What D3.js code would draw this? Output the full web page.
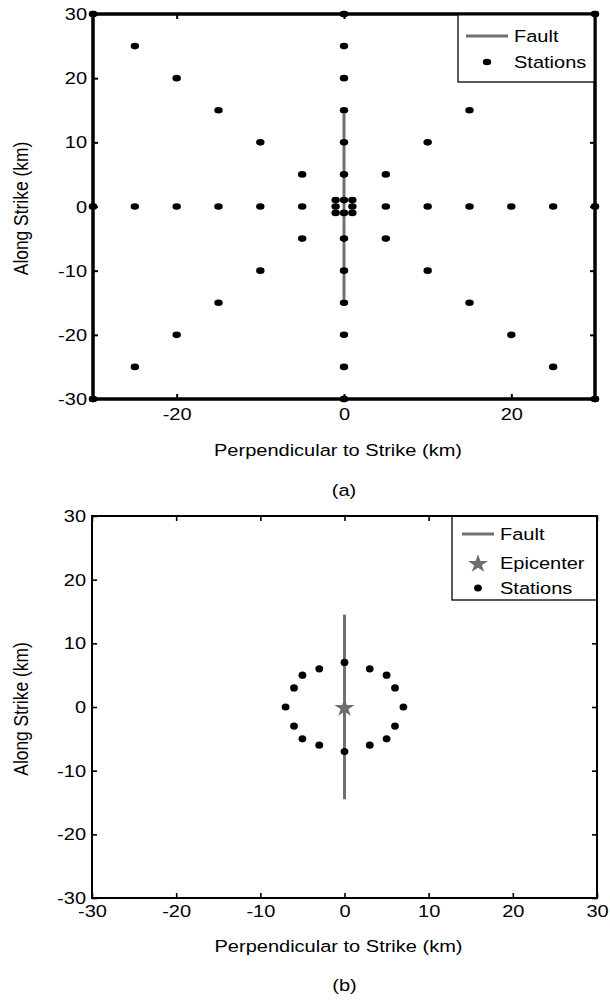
<!DOCTYPE html>
<html>
<head>
<meta charset="utf-8">
<script src="https://cdn.jsdelivr.net/npm/d3@7"></script>
<style>
  html, body { margin: 0; padding: 0; background: #fff; }
</style>
</head>
<body>
<script>
// ---- data ----------------------------------------------------------------
const yTickValues  = [-30, -20, -10, 0, 10, 20, 30];
const xTickValuesA = [-20, 0, 20];
const xTickValuesB = [-30, -20, -10, 0, 10, 20, 30];

// Fault trace (x, along-strike ends) shared by both layouts
const faultX = 0;
const faultEnds = [-14.5, 14.5];

// Epicenter for layout (b)
const epicenter = [0, 0];

// Layout (a): radial station grid plus a tight ring at the fault centre
const stationsA = [
  // along the x axis
  [-30, 0], [-25, 0], [-20, 0], [-15, 0], [-10, 0], [-5, 0],
  [5, 0], [10, 0], [15, 0], [20, 0], [25, 0], [30, 0],
  // along the y axis
  [0, -30], [0, -25], [0, -20], [0, -15], [0, -10], [0, -5],
  [0, 5], [0, 10], [0, 15], [0, 20], [0, 25], [0, 30],
  // diagonal y = x
  [-30, -30], [-25, -25], [-20, -20], [-15, -15], [-10, -10], [-5, -5],
  [5, 5], [10, 10], [15, 15], [20, 20], [25, 25], [30, 30],
  // diagonal y = -x
  [-30, 30], [-25, 25], [-20, 20], [-15, 15], [-10, 10], [-5, 5],
  [5, -5], [10, -10], [15, -15], [20, -20], [25, -25], [30, -30],
  // near-fault ring
  [-1, -1], [0, -1], [1, -1], [-1, 0], [1, 0], [-1, 1], [0, 1], [1, 1]
];

// Layout (b): ring of stations around the epicenter
const stationsB = [
  [0, 7], [3, 6], [5, 5], [6, 3], [7, 0], [6, -3], [5, -5], [3, -6],
  [0, -7], [-3, -6], [-5, -5], [-6, -3], [-7, 0], [-6, 3], [-5, 5], [-3, 6]
];

const legendA = ["Fault", "Stations"];
const legendB = ["Fault", "Epicenter", "Stations"];

// ---- styling ---------------------------------------------------------------
const FONT = '"Liberation Sans", Arial, Helvetica, sans-serif';
const FS = 17.4;      // font size
const SX = 1.15;      // horizontal text stretch
const FAULT_COLOR = "#707070";
const STAR_COLOR = "#6e6e6e";

const W = 610, H = 1001;
const svg = d3.select("body").append("svg")
  .attr("width", W).attr("height", H)
  .style("background", "#fff");

function hText(g, x, y, str, anchor) {
  return g.append("text")
    .attr("transform", `translate(${x},${y}) scale(${SX},1)`)
    .attr("text-anchor", anchor || "start")
    .attr("font-size", FS)
    .attr("font-family", FONT)
    .attr("fill", "#000")
    .text(str);
}

function drawAxes(g, x, y, xt, yt, frameW, tickW, xPad) {
  const [x0, x1] = x.range();
  const [yb, yt0] = y.range();
  const fmt = d => String(d);

  const styleAxis = sel => {
    sel.attr("font-size", FS).attr("font-family", FONT);
    sel.select(".domain").remove();
    sel.selectAll(".tick line").attr("stroke", "#000").attr("stroke-width", tickW);
    sel.selectAll(".tick text").attr("fill", "#000");
  };

  g.append("g").attr("transform", `translate(0,${yb})`)
    .call(d3.axisBottom(x).tickValues(xt).tickFormat(fmt)
      .tickSizeInner(-5).tickSizeOuter(0).tickPadding(xPad))
    .call(styleAxis)
    .selectAll(".tick text").attr("transform", `scale(${SX},1)`);

  g.append("g").attr("transform", `translate(0,${yt0})`)
    .call(d3.axisTop(x).tickValues(xt).tickFormat("")
      .tickSizeInner(-5).tickSizeOuter(0))
    .call(styleAxis);

  g.append("g").attr("transform", `translate(${x0},0)`)
    .call(d3.axisLeft(y).tickValues(yt).tickFormat(fmt)
      .tickSizeInner(-5).tickSizeOuter(0).tickPadding(6 / SX))
    .call(styleAxis)
    .selectAll(".tick text").attr("transform", `scale(${SX},1)`);

  g.append("g").attr("transform", `translate(${x1},0)`)
    .call(d3.axisRight(y).tickValues(yt).tickFormat("")
      .tickSizeInner(-5).tickSizeOuter(0))
    .call(styleAxis);
}

function drawFrame(g, x, y, w) {
  const [x0, x1] = x.range();
  const [yb, yt0] = y.range();
  g.append("rect")
    .attr("x", x0).attr("y", yt0)
    .attr("width", x1 - x0).attr("height", yb - yt0)
    .attr("fill", "none").attr("stroke", "#000").attr("stroke-width", w);
}

function drawLabels(g, x, y, titleY, captionY, caption) {
  const [x0, x1] = x.range();
  const [yb, yt0] = y.range();
  hText(g, (x0 + x1) / 2 - 6, titleY, "Perpendicular to Strike (km)", "middle");
  g.append("text")
    .attr("transform", `translate(28,${(yb + yt0) / 2 + 2}) rotate(-90) scale(1,${SX})`)
    .attr("text-anchor", "middle")
    .attr("font-size", FS).attr("font-family", FONT).attr("fill", "#000")
    .text("Along Strike (km)");
  hText(g, (x0 + x1) / 2, captionY, caption, "middle");
}

// ---- panel (a) -------------------------------------------------------------
{
  const g = svg.append("g");
  const x = d3.scaleLinear().domain([-30, 30]).range([93, 595]);
  const y = d3.scaleLinear().domain([-30, 30]).range([399, 14]);

  drawAxes(g, x, y, xTickValuesA, yTickValues, 3, 2, 9);
  drawFrame(g, x, y, 3);

  g.append("line")
    .attr("x1", x(faultX)).attr("x2", x(faultX))
    .attr("y1", y(faultEnds[0])).attr("y2", y(faultEnds[1]))
    .attr("stroke", FAULT_COLOR).attr("stroke-width", 3);

  const dot = sel => sel.append("ellipse")
    .attr("cx", d => x(d[0])).attr("cy", d => y(d[1]))
    .attr("rx", 4.2).attr("ry", 3.3).attr("fill", "#000");

  g.append("g").selectAll("ellipse").data(stationsA).join(dot);

  // legend
  const lg = g.append("g");
  lg.append("rect").attr("x", 458).attr("y", 14).attr("width", 595 - 458).attr("height", 68)
    .attr("fill", "#fff").attr("stroke", "#000").attr("stroke-width", 1.3);
  lg.append("line").attr("x1", 466).attr("x2", 508).attr("y1", 36).attr("y2", 36)
    .attr("stroke", FAULT_COLOR).attr("stroke-width", 3);
  hText(lg, 514, 42, legendA[0]);
  lg.append("ellipse").attr("cx", 487).attr("cy", 62).attr("rx", 4.2).attr("ry", 3.3).attr("fill", "#000");
  hText(lg, 514, 68, legendA[1]);

  // frame and boundary stations stay above the legend box
  drawFrame(g, x, y, 3);
  g.append("g").selectAll("ellipse")
    .data(stationsA.filter(d => Math.abs(d[0]) === 30 || Math.abs(d[1]) === 30))
    .join(dot);

  drawLabels(g, x, y, 456, 496, "(a)");
}

// ---- panel (b) -------------------------------------------------------------
{
  const g = svg.append("g");
  const x = d3.scaleLinear().domain([-30, 30]).range([92, 597]);
  const y = d3.scaleLinear().domain([-30, 30]).range([898, 516]);

  drawAxes(g, x, y, xTickValuesB, yTickValues, 2, 1.6, 7);
  drawFrame(g, x, y, 2);

  g.append("line")
    .attr("x1", x(faultX)).attr("x2", x(faultX))
    .attr("y1", y(faultEnds[0])).attr("y2", y(faultEnds[1]))
    .attr("stroke", FAULT_COLOR).attr("stroke-width", 3);

  g.append("g").selectAll("ellipse").data(stationsB).join("ellipse")
    .attr("cx", d => x(d[0])).attr("cy", d => y(d[1]))
    .attr("rx", 3.9).attr("ry", 3.6).attr("fill", "#000");

  const star = d3.symbol().type(d3.symbolStar).size(105);
  g.append("path")
    .attr("d", star())
    .attr("transform", `translate(${x(epicenter[0])},${y(epicenter[1]) + 1}) scale(1.1,1)`)
    .attr("fill", STAR_COLOR);

  // legend
  const lg = g.append("g");
  lg.append("rect").attr("x", 452).attr("y", 516).attr("width", 597 - 452).attr("height", 84)
    .attr("fill", "#fff").attr("stroke", "#000").attr("stroke-width", 1.3);
  lg.append("line").attr("x1", 462).attr("x2", 494).attr("y1", 534).attr("y2", 534)
    .attr("stroke", FAULT_COLOR).attr("stroke-width", 3);
  hText(lg, 500, 540, legendB[0]);
  lg.append("path").attr("d", star())
    .attr("transform", "translate(478,564) scale(1.1,1)").attr("fill", STAR_COLOR);
  hText(lg, 500, 569, legendB[1]);
  lg.append("ellipse").attr("cx", 478).attr("cy", 588).attr("rx", 3.9).attr("ry", 3.6).attr("fill", "#000");
  hText(lg, 500, 594, legendB[2]);

  drawFrame(g, x, y, 2);

  drawLabels(g, x, y, 952, 991, "(b)");
}
</script>
</body>
</html>
